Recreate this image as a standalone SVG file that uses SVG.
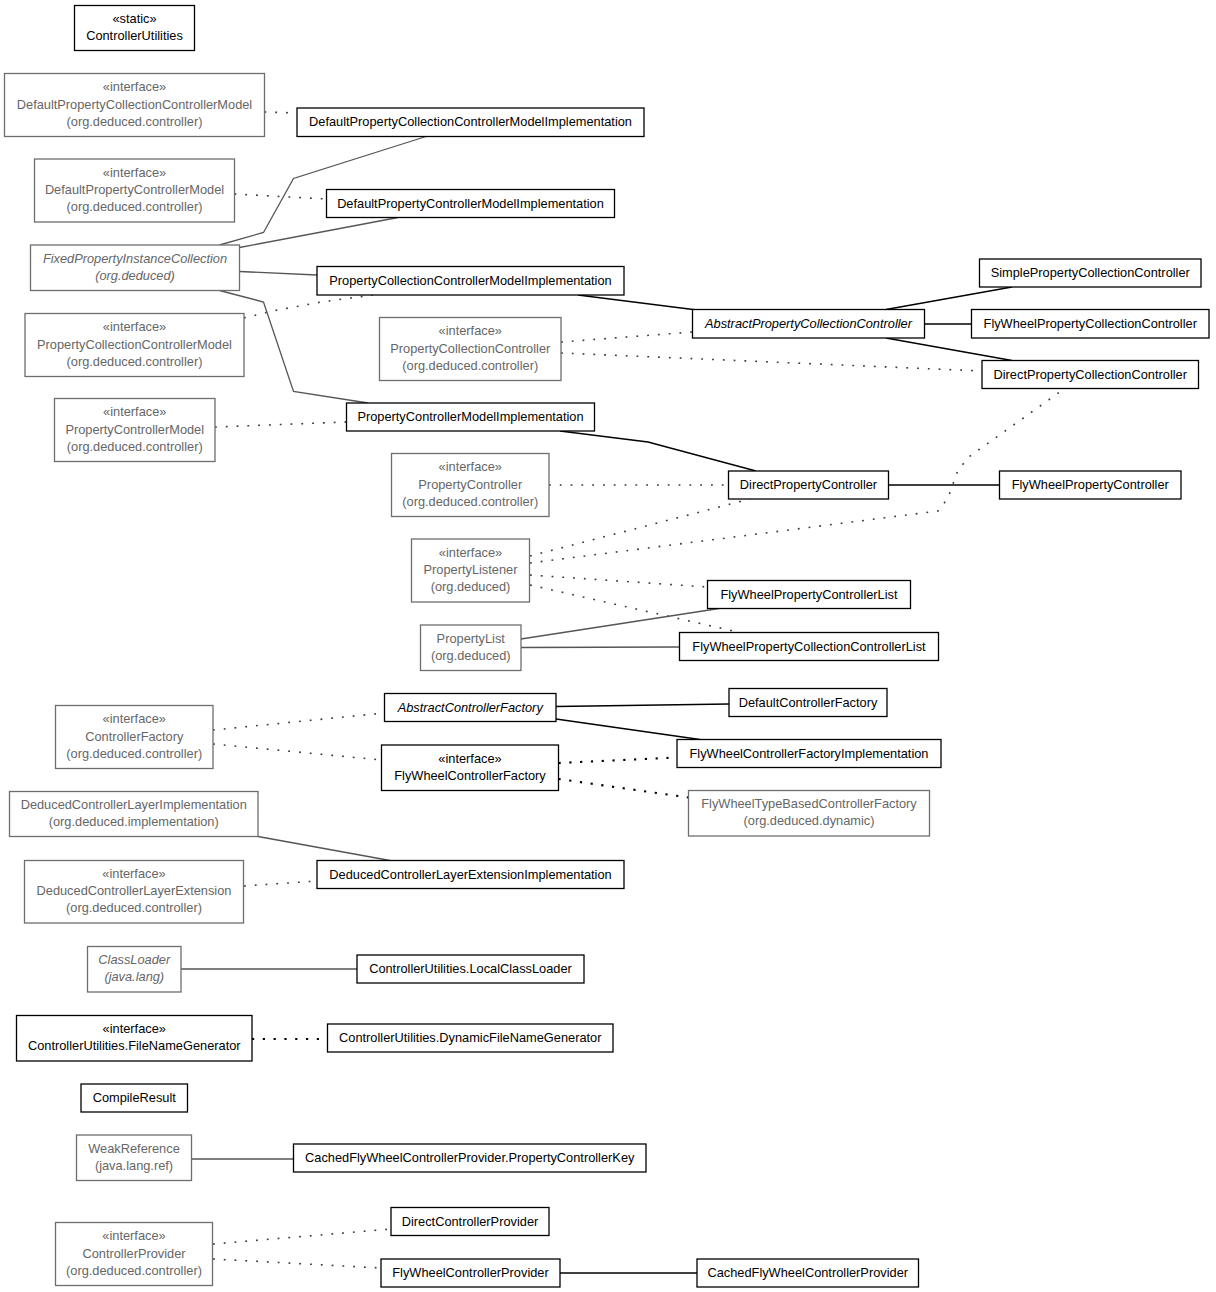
<svg xmlns="http://www.w3.org/2000/svg" width="1216" height="1292" viewBox="0 0 1216 1292">
<style>
text{font-family:"Liberation Sans",Arial,sans-serif;font-size:12.8px;text-anchor:middle}
.b{fill:#fff;stroke:#000;stroke-width:1.3}
.g{fill:#fff;stroke:#6e6e6e;stroke-width:1.3}
.tb{fill:#000}
.tg{fill:#666}
.it{font-style:italic}
.sl{fill:none;stroke:#000;stroke-width:1.3}
.sg{fill:none;stroke:#555;stroke-width:1.3}
.dg{fill:none;stroke:#3a3a3a;stroke-width:1.6;stroke-dasharray:1.8 9}
.db{fill:none;stroke:#000;stroke-width:2.1;stroke-dasharray:2.2 8.6}
</style>
<rect width="1216" height="1292" fill="#fff"/>
<g id="connectors">
<path class="dg" d="M264.5,112 L297,113"/>
<path class="dg" d="M234.5,194 L326.5,199"/>
<path class="dg" d="M244,318 L273.6,310.7 L323,301.7 L373,295"/>
<path class="dg" d="M561,342 L692.5,332"/>
<path class="dg" d="M561,353 L982,371"/>
<path class="dg" d="M215,427 L346.5,422"/>
<path class="dg" d="M549,485 L728.5,485"/>
<path class="dg" d="M530,556 L750,499"/>
<path class="dg" d="M530,563 L938,511 L948,498 L958,470 L970,456 L1064,389"/>
<path class="dg" d="M530,575 L707.5,587"/>
<path class="dg" d="M530,585 L740,632.5"/>
<path class="dg" d="M213,730 L384.5,713"/>
<path class="dg" d="M213,744 L381.5,760"/>
<path class="dg" d="M244,886 L317,881"/>
<path class="dg" d="M213,1244 L391,1229"/>
<path class="dg" d="M213,1259 L381,1268"/>
<path class="db" d="M558.5,763 L677,757.5"/>
<path class="db" d="M558.5,779 L688.5,797.5"/>
<path class="db" d="M252,1039 L327.5,1039"/>
<path class="sl" d="M578,295 L697,310"/>
<path class="sl" d="M886,309.5 L1012,287"/>
<path class="sl" d="M925,324 L971.5,324"/>
<path class="sl" d="M886,338 L1012,360.5"/>
<path class="sl" d="M560,431 L648,442 L756,471"/>
<path class="sl" d="M888.5,485 L999.5,485"/>
<path class="sl" d="M556,706.5 L729,704"/>
<path class="sl" d="M556,719 L700,739.5"/>
<path class="sl" d="M560,1273 L697,1273"/>
<path class="sg" d="M219.5,245 L263.5,232.5 L293.5,178.5 L426,136.5"/>
<path class="sg" d="M239.5,247.5 L398,217.5"/>
<path class="sg" d="M239.5,271.5 L317,275"/>
<path class="sg" d="M219.5,290.5 L263.5,302 L293.5,391.5 L368,403"/>
<path class="sg" d="M521,639 L719,608.5"/>
<path class="sg" d="M521,647.5 L679.5,647"/>
<path class="sg" d="M258,836.5 L390,860.5"/>
<path class="sg" d="M181,969 L357,969"/>
<path class="sg" d="M192,1159 L293.5,1159"/>
</g>
<g id="ControllerUtilities"><rect class="b" x="74.5" y="5.5" width="120" height="45"/><text class="tb" x="134.5" y="23">«static»</text><text class="tb" x="134.5" y="40">ControllerUtilities</text></g>
<g id="DefaultPropertyCollectionControllerModel"><rect class="g" x="4.5" y="73.5" width="260" height="63"/><text class="tg" x="134.5" y="91">«interface»</text><text class="tg" x="134.5" y="108.5">DefaultPropertyCollectionControllerModel</text><text class="tg" x="134.5" y="125.5">(org.deduced.controller)</text></g>
<g id="DefaultPropertyCollectionControllerModelImplementation"><rect class="b" x="297" y="108" width="347" height="28.5"/><text class="tb" x="470.5" y="126.25">DefaultPropertyCollectionControllerModelImplementation</text></g>
<g id="DefaultPropertyControllerModel"><rect class="g" x="34.5" y="159" width="200" height="63"/><text class="tg" x="134.5" y="176.5">«interface»</text><text class="tg" x="134.5" y="194">DefaultPropertyControllerModel</text><text class="tg" x="134.5" y="211">(org.deduced.controller)</text></g>
<g id="DefaultPropertyControllerModelImplementation"><rect class="b" x="326.5" y="189.5" width="288" height="28"/><text class="tb" x="470.5" y="207.5">DefaultPropertyControllerModelImplementation</text></g>
<g id="FixedPropertyInstanceCollection"><rect class="g" x="30.5" y="245" width="209" height="45.5"/><text class="tg it" x="135" y="262.75">FixedPropertyInstanceCollection</text><text class="tg it" x="135" y="279.75">(org.deduced)</text></g>
<g id="PropertyCollectionControllerModelImplementation"><rect class="b" x="317" y="266.5" width="307" height="28.5"/><text class="tb" x="470.5" y="284.75">PropertyCollectionControllerModelImplementation</text></g>
<g id="PropertyCollectionControllerModel"><rect class="g" x="25" y="313.5" width="219" height="63"/><text class="tg" x="134.5" y="331">«interface»</text><text class="tg" x="134.5" y="348.5">PropertyCollectionControllerModel</text><text class="tg" x="134.5" y="365.5">(org.deduced.controller)</text></g>
<g id="PropertyCollectionController"><rect class="g" x="379.5" y="317.5" width="181.5" height="63"/><text class="tg" x="470.25" y="335">«interface»</text><text class="tg" x="470.25" y="352.5">PropertyCollectionController</text><text class="tg" x="470.25" y="369.5">(org.deduced.controller)</text></g>
<g id="AbstractPropertyCollectionController"><rect class="b" x="692.5" y="309.5" width="232" height="28.5"/><text class="tb it" x="808.5" y="327.75">AbstractPropertyCollectionController</text></g>
<g id="SimplePropertyCollectionController"><rect class="b" x="979.5" y="259" width="221.5" height="28"/><text class="tb" x="1090.25" y="277">SimplePropertyCollectionController</text></g>
<g id="FlyWheelPropertyCollectionController"><rect class="b" x="971.5" y="309.5" width="237.5" height="28.5"/><text class="tb" x="1090.25" y="327.75">FlyWheelPropertyCollectionController</text></g>
<g id="DirectPropertyCollectionController"><rect class="b" x="982" y="360.5" width="216.5" height="28"/><text class="tb" x="1090.25" y="378.5">DirectPropertyCollectionController</text></g>
<g id="PropertyControllerModel"><rect class="g" x="54.5" y="398.5" width="160.5" height="63"/><text class="tg" x="134.75" y="416">«interface»</text><text class="tg" x="134.75" y="433.5">PropertyControllerModel</text><text class="tg" x="134.75" y="450.5">(org.deduced.controller)</text></g>
<g id="PropertyControllerModelImplementation"><rect class="b" x="346.5" y="403" width="248" height="28"/><text class="tb" x="470.5" y="421">PropertyControllerModelImplementation</text></g>
<g id="PropertyController"><rect class="g" x="391.5" y="453.5" width="157.5" height="63"/><text class="tg" x="470.25" y="471">«interface»</text><text class="tg" x="470.25" y="488.5">PropertyController</text><text class="tg" x="470.25" y="505.5">(org.deduced.controller)</text></g>
<g id="DirectPropertyController"><rect class="b" x="728.5" y="471" width="160" height="28"/><text class="tb" x="808.5" y="489">DirectPropertyController</text></g>
<g id="FlyWheelPropertyController"><rect class="b" x="999.5" y="471" width="181.5" height="28"/><text class="tb" x="1090.25" y="489">FlyWheelPropertyController</text></g>
<g id="PropertyListener"><rect class="g" x="411.5" y="539" width="118" height="63"/><text class="tg" x="470.5" y="556.5">«interface»</text><text class="tg" x="470.5" y="574">PropertyListener</text><text class="tg" x="470.5" y="591">(org.deduced)</text></g>
<g id="FlyWheelPropertyControllerList"><rect class="b" x="707.5" y="580.5" width="203" height="28"/><text class="tb" x="809" y="598.5">FlyWheelPropertyControllerList</text></g>
<g id="PropertyList"><rect class="g" x="420.5" y="625" width="100.5" height="45.5"/><text class="tg" x="470.75" y="642.75">PropertyList</text><text class="tg" x="470.75" y="659.75">(org.deduced)</text></g>
<g id="FlyWheelPropertyCollectionControllerList"><rect class="b" x="679.5" y="632.5" width="259" height="28"/><text class="tb" x="809" y="650.5">FlyWheelPropertyCollectionControllerList</text></g>
<g id="AbstractControllerFactory"><rect class="b" x="384.5" y="693.5" width="171.5" height="28"/><text class="tb it" x="470.25" y="711.5">AbstractControllerFactory</text></g>
<g id="DefaultControllerFactory"><rect class="b" x="729" y="688.5" width="158" height="28"/><text class="tb" x="808" y="706.5">DefaultControllerFactory</text></g>
<g id="ControllerFactory"><rect class="g" x="55.5" y="705.5" width="157.5" height="63"/><text class="tg" x="134.25" y="723">«interface»</text><text class="tg" x="134.25" y="740.5">ControllerFactory</text><text class="tg" x="134.25" y="757.5">(org.deduced.controller)</text></g>
<g id="FlyWheelControllerFactory"><rect class="b" x="381.5" y="745" width="177" height="45.5"/><text class="tb" x="470" y="762.75">«interface»</text><text class="tb" x="470" y="779.75">FlyWheelControllerFactory</text></g>
<g id="FlyWheelControllerFactoryImplementation"><rect class="b" x="677" y="739.5" width="264" height="28"/><text class="tb" x="809" y="757.5">FlyWheelControllerFactoryImplementation</text></g>
<g id="FlyWheelTypeBasedControllerFactory"><rect class="g" x="688.5" y="790.5" width="241" height="45.5"/><text class="tg" x="809" y="808.25">FlyWheelTypeBasedControllerFactory</text><text class="tg" x="809" y="825.25">(org.deduced.dynamic)</text></g>
<g id="DeducedControllerLayerImplementation"><rect class="g" x="9.5" y="791.5" width="248.5" height="45"/><text class="tg" x="133.75" y="809">DeducedControllerLayerImplementation</text><text class="tg" x="133.75" y="826">(org.deduced.implementation)</text></g>
<g id="DeducedControllerLayerExtension"><rect class="g" x="24.5" y="860.5" width="219" height="62.5"/><text class="tg" x="134" y="877.75">«interface»</text><text class="tg" x="134" y="895.25">DeducedControllerLayerExtension</text><text class="tg" x="134" y="912.25">(org.deduced.controller)</text></g>
<g id="DeducedControllerLayerExtensionImplementation"><rect class="b" x="317" y="860.5" width="307" height="28"/><text class="tb" x="470.5" y="878.5">DeducedControllerLayerExtensionImplementation</text></g>
<g id="ClassLoader"><rect class="g" x="87.5" y="946.5" width="93.5" height="45.5"/><text class="tg it" x="134.25" y="964.25">ClassLoader</text><text class="tg it" x="134.25" y="981.25">(java.lang)</text></g>
<g id="LocalClassLoader"><rect class="b" x="357" y="955" width="227" height="28"/><text class="tb" x="470.5" y="973">ControllerUtilities.LocalClassLoader</text></g>
<g id="FileNameGenerator"><rect class="b" x="16.5" y="1015.5" width="235.5" height="45.5"/><text class="tb" x="134.25" y="1033.25">«interface»</text><text class="tb" x="134.25" y="1050.25">ControllerUtilities.FileNameGenerator</text></g>
<g id="DynamicFileNameGenerator"><rect class="b" x="327.5" y="1024" width="285.5" height="28"/><text class="tb" x="470.25" y="1042">ControllerUtilities.DynamicFileNameGenerator</text></g>
<g id="CompileResult"><rect class="b" x="81" y="1084" width="106.5" height="28"/><text class="tb" x="134.25" y="1102">CompileResult</text></g>
<g id="WeakReference"><rect class="g" x="76.5" y="1135" width="115" height="45.5"/><text class="tg" x="134" y="1152.75">WeakReference</text><text class="tg" x="134" y="1169.75">(java.lang.ref)</text></g>
<g id="PropertyControllerKey"><rect class="b" x="293.5" y="1144" width="352.5" height="28"/><text class="tb" x="469.75" y="1162">CachedFlyWheelControllerProvider.PropertyControllerKey</text></g>
<g id="DirectControllerProvider"><rect class="b" x="391" y="1207.5" width="158" height="28"/><text class="tb" x="470" y="1225.5">DirectControllerProvider</text></g>
<g id="ControllerProvider"><rect class="g" x="55.5" y="1222.5" width="157" height="63"/><text class="tg" x="134" y="1240">«interface»</text><text class="tg" x="134" y="1257.5">ControllerProvider</text><text class="tg" x="134" y="1274.5">(org.deduced.controller)</text></g>
<g id="FlyWheelControllerProvider"><rect class="b" x="381" y="1259" width="179" height="28"/><text class="tb" x="470.5" y="1277">FlyWheelControllerProvider</text></g>
<g id="CachedFlyWheelControllerProvider"><rect class="b" x="697" y="1259" width="221.5" height="28"/><text class="tb" x="807.75" y="1277">CachedFlyWheelControllerProvider</text></g>
</svg>
